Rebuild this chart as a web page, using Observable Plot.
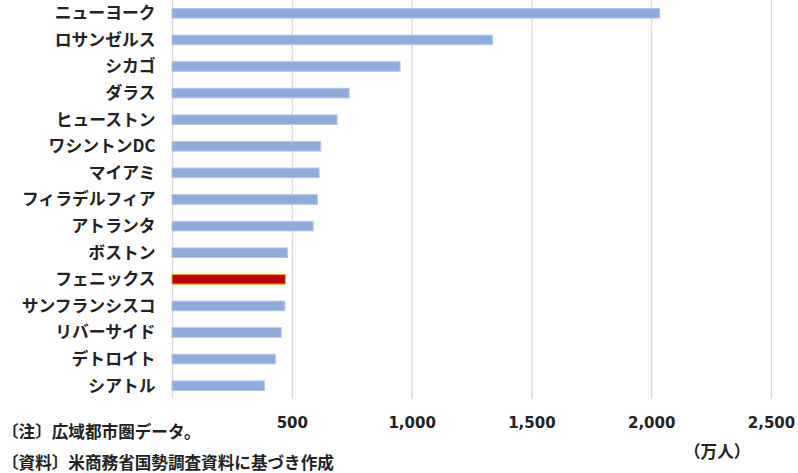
<!DOCTYPE html>
<html><head><meta charset="utf-8">
<script src="https://cdn.jsdelivr.net/npm/d3@7"></script>
<script src="https://cdn.jsdelivr.net/npm/@observablehq/plot@0.6"></script>
<style>
body{margin:0;background:#fff;}
#wrap{position:relative;width:798px;height:473px;font-family:"Noto Sans CJK JP",sans-serif;}
.note{position:absolute;font-size:16.6px;font-weight:700;color:#222;white-space:nowrap;line-height:1;}
</style></head>
<body><div id="wrap"></div>
<script>
const cities = ["ニューヨーク","ロサンゼルス","シカゴ","ダラス","ヒューストン","ワシントンDC","マイアミ","フィラデルフィア","アトランタ","ボストン","フェニックス","サンフランシスコ","リバーサイド","デトロイト","シアトル"];
const population = [2035,1337,952,739,689,621,614,607,589,482,473,471,456,431,386];
const highlight = "フェニックス";
const xTicks = [0,500,1000,1500,2000,2500];
const unitLabel = "（万人）";
const note1 = "〔注〕広域都市圏データ。";
const note2 = "〔資料〕米商務省国勢調査資料に基づき作成";

const data = cities.map((c,i)=>({city:c, value:population[i]}));
const chart = Plot.plot({
  width:798, height:473,
  marginLeft:172, marginRight:27, marginTop:0, marginBottom:74,
  style:{fontFamily:'"Noto Sans CJK JP",sans-serif', fontSize:"15px", fontWeight:"700", color:"#222"},
  x:{domain:[0,2500], ticks:xTicks, tickFormat:d=>d===0?"":d3.format(",")(d), tickSize:0, tickPadding:18, label:null},
  y:{domain:cities, paddingInner:0.64, paddingOuter:0.32, round:false, tickSize:0, tickPadding:17, label:null},
  marks:[
    Plot.ruleX(xTicks,{stroke:"#d9d9d9", strokeWidth:1.3}),
    Plot.barX(data,{y:"city", x:"value", fill:d=>d.city===highlight?"#c00000":"#8faadc", stroke:d=>d.city===highlight?"#f4b400":"#b4c7e7", strokeWidth:1})
  ]
});
chart.querySelectorAll('[aria-label="y-axis tick label"] text').forEach(t=>{t.style.fontSize="16.8px";});
chart.querySelectorAll('[aria-label="x-axis tick label"] text').forEach(t=>{t.style.fontSize="15px";t.style.fontFamily='"DejaVu Sans",sans-serif';});
const wrap = document.getElementById("wrap");
wrap.appendChild(chart);
function addNote(txt,x,y){const d=document.createElement("div");d.className="note";d.textContent=txt;d.style.left=x+"px";d.style.top=y+"px";wrap.appendChild(d);}
addNote(note1,2,423);
addNote(note2,2,454);
addNote(unitLabel,684,443);
</script></body></html>
